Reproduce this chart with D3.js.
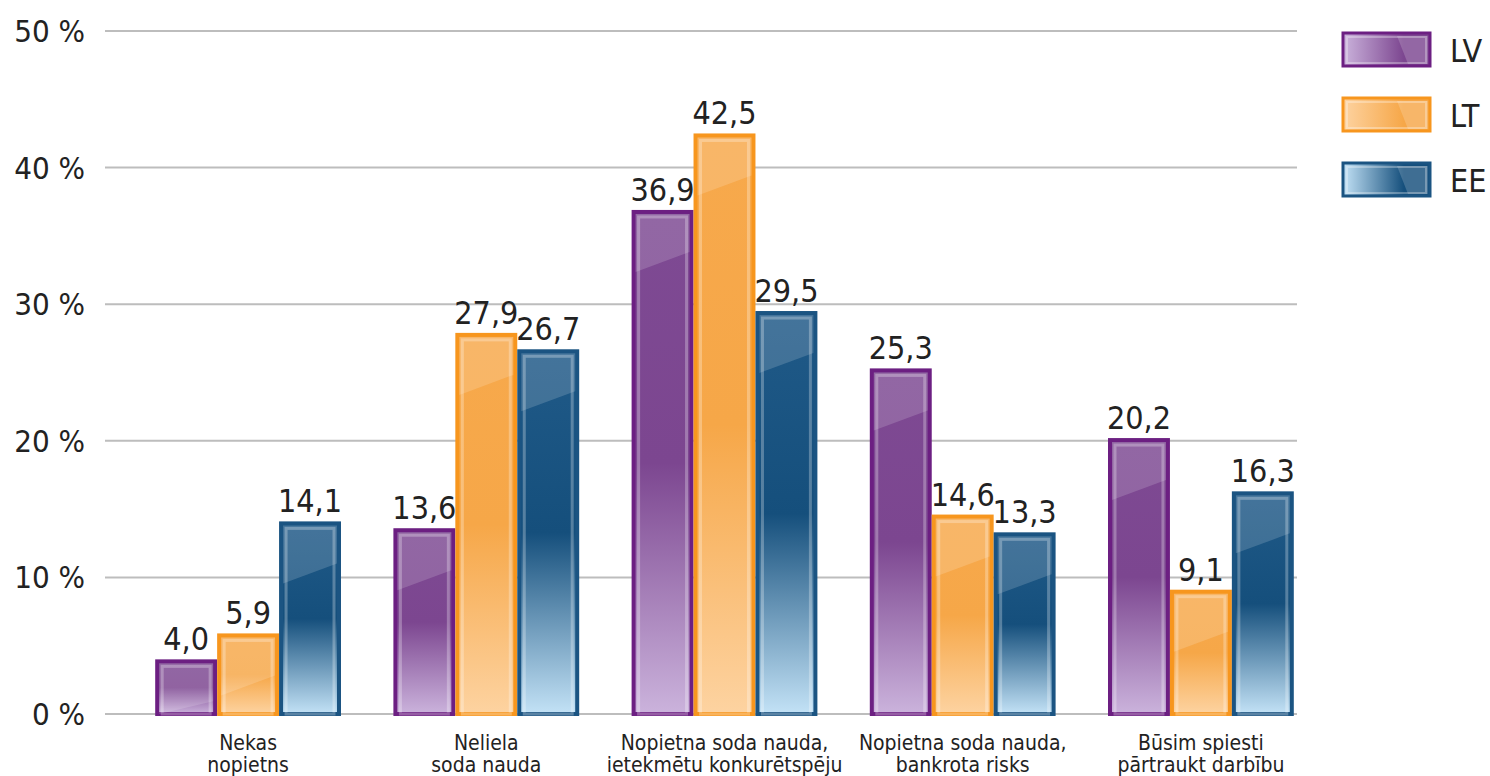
<!DOCTYPE html>
<html><head><meta charset="utf-8">
<script src="https://cdn.jsdelivr.net/npm/d3@7"></script>
<style>body{margin:0;background:#fff}svg{display:block}</style>
</head><body><svg id="c" width="1490" height="776"></svg>
<script>
const categories = [["Nekas","nopietns"],["Neliela","soda nauda"],["Nopietna soda nauda,","ietekmētu konkurētspēju"],["Nopietna soda nauda,","bankrota risks"],["Būsim spiesti","pārtraukt darbību"]];
const seriesNames = ["LV","LT","EE"];
const LV = [4.0, 13.6, 36.9, 25.3, 20.2];
const LT = [5.9, 27.9, 42.5, 14.6, 9.1];
const EE = [14.1, 26.7, 29.5, 13.3, 16.3];
const yTicks = [0,10,20,30,40,50];
const values = [LV, LT, EE];
const colors = {
  LV:{stroke:"#6c1f82", top:"#7e4a93", mid:"#7c4690", bot:"#cbb3dc"},
  LT:{stroke:"#f7961e", top:"#f7a94c", mid:"#f6a748", bot:"#fdd3a1"},
  EE:{stroke:"#1b5482", top:"#205a88", mid:"#154f7c", bot:"#c3e2f6"}
};
const font = "'DejaVu Sans Condensed','DejaVu Sans',sans-serif";
const svg = d3.select("#c");
const defs = svg.append("defs");
seriesNames.forEach(s=>{
  const c = colors[s];
  const g = defs.append("linearGradient").attr("id","g"+s).attr("x1",0).attr("y1",0).attr("x2",0).attr("y2",1);
  g.append("stop").attr("offset","0").attr("stop-color",c.top);
  g.append("stop").attr("offset","0.5").attr("stop-color",c.mid);
  g.append("stop").attr("offset","1").attr("stop-color",c.bot);
  const gl = defs.append("linearGradient").attr("id","l"+s).attr("x1",0).attr("y1",0).attr("x2",1).attr("y2",0);
  gl.append("stop").attr("offset","0").attr("stop-color",c.bot);
  gl.append("stop").attr("offset","0.7").attr("stop-color",c.mid);
  gl.append("stop").attr("offset","1").attr("stop-color",c.mid);
});

const y = d3.scaleLinear().domain([0,50]).range([714,31]);
const x0 = d3.scaleBand().domain(d3.range(categories.length)).range([129,1320]).paddingInner(0.22).paddingOuter(0.11);
const x1 = d3.scaleBand().domain(seriesNames).range([0,x0.bandwidth()]);

svg.append("g").selectAll("line").data(yTicks).join("line")
  .attr("x1",105).attr("x2",1297).attr("y1",d=>y(d)).attr("y2",d=>y(d))
  .attr("stroke","#bdbdbd").attr("stroke-width",2);
svg.append("g").selectAll("text").data(yTicks).join("text")
  .attr("x",85).attr("y",d=>y(d)+11).attr("text-anchor","end")
  .attr("font-family",font).attr("font-size",31).attr("fill","#222")
  .text(d=>d+" %");

const sw = 4;
categories.forEach((cat,i)=>{
  seriesNames.forEach((s,j)=>{
    const v = values[j][i];
    const bx = x0(i)+x1(s), bw = x1.bandwidth();
    const top = y(v), bot = y(0);
    const g = svg.append("g");
    g.append("rect").attr("x",bx+sw/2).attr("y",top+sw/2).attr("width",bw-sw).attr("height",bot-top-sw/2)
      .attr("fill","url(#g"+s+")").attr("stroke",colors[s].stroke).attr("stroke-width",sw);
    const ix = bx+sw, iw = bw-2*sw, it = top+sw, ih = bot-top-sw;
    const d1 = Math.min(58, ih), d2 = Math.min(38, ih);
    g.append("path").attr("d",`M${ix},${it}L${ix+iw},${it}L${ix+iw},${it+d2}L${ix},${it+d1}Z`)
      .attr("fill","#fff").attr("opacity",0.16);
    g.append("rect").attr("x",ix+3).attr("y",it+3).attr("width",Math.max(0,iw-6)).attr("height",Math.max(0,ih-3))
      .attr("fill","none").attr("stroke","#fff").attr("stroke-opacity",0.28).attr("stroke-width",3);
    g.append("text").attr("x",bx+bw/2).attr("y",top-9).attr("text-anchor","middle")
      .attr("font-family",font).attr("font-size",32).attr("fill","#222")
      .text(d3.format(".1f")(v).replace(".",","));
  });
  cat.forEach((line,k)=>svg.append("text").attr("text-anchor","middle").attr("font-family",font)
    .attr("font-size",21).attr("fill","#222")
    .attr("x",x0(i)+x0.bandwidth()/2).attr("y",750+k*22).text(line));
});

seriesNames.forEach((s,k)=>{
  const ly = 33+k*65;
  const g = svg.append("g");
  g.append("rect").attr("x",1343).attr("y",ly).attr("width",87).attr("height",33)
    .attr("fill","url(#l"+s+")").attr("stroke",colors[s].stroke).attr("stroke-width",3);
  g.append("path").attr("d",`M1397,${ly+3}L1428,${ly+3}L1428,${ly+31}L1408,${ly+31}Z`).attr("fill","#fff").attr("opacity",0.18);
  g.append("rect").attr("x",1347).attr("y",ly+4).attr("width",79).attr("height",26).attr("fill","none")
    .attr("stroke","#fff").attr("stroke-opacity",0.3).attr("stroke-width",2);
  g.append("text").attr("x",1450).attr("y",ly+29).attr("font-family",font).attr("font-size",32).attr("fill","#222").text(s);
});
</script></body></html>
